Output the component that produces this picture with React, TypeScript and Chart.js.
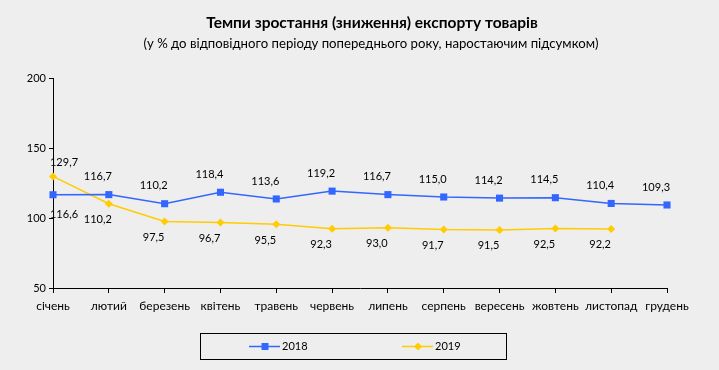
import React, { useEffect, useRef } from 'react';
import { Chart, registerables } from 'chart.js';

Chart.register(...registerables);

const months = ['січень', 'лютий', 'березень', 'квітень', 'травень', 'червень', 'липень', 'серпень', 'вересень', 'жовтень', 'листопад', 'грудень'];
const series2018 = [116.6, 116.7, 110.2, 118.4, 113.6, 119.2, 116.7, 115.0, 114.2, 114.5, 110.4, 109.3];
const series2019: (number | null)[] = [129.7, 110.2, 97.5, 96.7, 95.5, 92.3, 93.0, 91.7, 91.5, 92.5, 92.2, null];
const seriesNames = ['2018', '2019'];
const yMin = 50;
const yMax = 200;
const yStep = 50;
const titleText = 'Темпи зростання (зниження) експорту товарів';
const subtitleText = '(у % до відповідного періоду попереднього року, наростаючим підсумком)';

const FONT = 'Lato, "Liberation Sans", sans-serif';
const BLUE = '#3366ff';
const GOLD = '#ffcc00';

const fmt = (v: number) => v.toFixed(1).replace('.', ',');

function drawSquare(ctx: CanvasRenderingContext2D, x: number, y: number, s: number, color: string) {
  ctx.fillStyle = color;
  ctx.fillRect(x - s / 2, y - s / 2, s, s);
}
function drawDiamond(ctx: CanvasRenderingContext2D, x: number, y: number, r: number, color: string) {
  ctx.fillStyle = color;
  ctx.beginPath();
  ctx.moveTo(x, y - r);
  ctx.lineTo(x + r, y);
  ctx.lineTo(x, y + r);
  ctx.lineTo(x - r, y);
  ctx.closePath();
  ctx.fill();
}

const decorPlugin = {
  id: 'decor',
  beforeDraw(chart: any) {
    const ctx: CanvasRenderingContext2D = chart.ctx;
    ctx.save();
    ctx.fillStyle = '#eeeeee';
    ctx.fillRect(0, 0, chart.width, chart.height);
    ctx.fillStyle = '#000';
    ctx.textAlign = 'center';
    ctx.textBaseline = 'middle';
    ctx.font = `bold 15.5px ${FONT}`;
    ctx.fillText(titleText, 372, 23);
    ctx.font = `13.2px ${FONT}`;
    ctx.fillText(subtitleText, 371, 44);

    // legend box
    ctx.strokeStyle = '#000';
    ctx.lineWidth = 1;
    ctx.strokeRect(200.5, 333.5, 306, 26);
    const ly = 346.5;
    const items = [
      { x: 249, color: BLUE, kind: 'sq' },
      { x: 402, color: GOLD, kind: 'di' },
    ];
    items.forEach((it, i) => {
      ctx.strokeStyle = it.color;
      ctx.lineWidth = 1.5;
      ctx.beginPath();
      ctx.moveTo(it.x, ly);
      ctx.lineTo(it.x + 31, ly);
      ctx.stroke();
      if (it.kind === 'sq') drawSquare(ctx, it.x + 16, ly, 7, it.color);
      else drawDiamond(ctx, it.x + 16, ly, 4, it.color);
      ctx.fillStyle = '#000';
      ctx.textAlign = 'left';
      ctx.font = `11px ${FONT}`;
      ctx.fillText(seriesNames[i], it.x + 33, ly);
    });
    ctx.restore();
  },
  afterDatasetsDraw(chart: any) {
    const ctx: CanvasRenderingContext2D = chart.ctx;
    ctx.save();
    ctx.fillStyle = '#000';
    ctx.font = `11px ${FONT}`;
    ctx.textAlign = 'center';
    ctx.textBaseline = 'middle';
    const m18 = chart.getDatasetMeta(0).data;
    const m19 = chart.getDatasetMeta(1).data;
    for (let i = 0; i < months.length; i++) {
      const v18 = series2018[i];
      const v19 = series2019[i];
      const above18 = v19 == null || v18 >= v19;
      const dx = i === 0 ? 11 : -11;
      const p18 = m18[i];
      if (p18 && v18 != null) {
        const dy = above18 ? -18 : 20;
        ctx.fillText(fmt(v18), p18.x + dx, p18.y + dy);
      }
      const p19 = m19[i];
      if (p19 && v19 != null) {
        const dy = above18 ? 16 : -14;
        ctx.fillText(fmt(v19), p19.x + dx, p19.y + dy);
      }
    }
    ctx.restore();
  },
};

export default function App() {
  const ref = useRef<HTMLCanvasElement | null>(null);
  useEffect(() => {
    document.body.style.margin = '0';
    document.body.style.background = '#eeeeee';
    const canvas = ref.current;
    if (!canvas) return;
    const chart = new Chart(canvas, {
      type: 'line',
      data: {
        labels: months,
        datasets: [
          {
            label: seriesNames[0],
            data: series2018,
            borderColor: BLUE,
            backgroundColor: BLUE,
            borderWidth: 1.5,
            pointStyle: 'rect',
            pointRadius: 5,
            pointBorderWidth: 0,
            tension: 0,
          },
          {
            label: seriesNames[1],
            data: series2019,
            borderColor: GOLD,
            backgroundColor: GOLD,
            borderWidth: 1.5,
            pointStyle: 'rectRot',
            pointRadius: 4,
            pointBorderWidth: 0,
            tension: 0,
          },
        ],
      },
      options: {
        responsive: false,
        animation: false,
        devicePixelRatio: 1,
        layout: { padding: { left: 0, right: 52, top: 78, bottom: 0 } },
        plugins: {
          legend: { display: false },
          title: { display: false },
          tooltip: { enabled: false },
        },
        scales: {
          x: {
            type: 'category',
            offset: false,
            grid: { display: true, drawOnChartArea: false, drawTicks: true, tickLength: 5, color: '#000' },
            border: { display: true, color: '#000', width: 1 },
            ticks: { color: '#000', font: { family: FONT, size: 12 }, padding: 6, maxRotation: 0, autoSkip: false },
            afterFit: (scale: any) => { scale.height = 82; },
          },
          y: {
            min: yMin,
            max: yMax,
            grid: { display: true, drawOnChartArea: false, drawTicks: true, tickLength: 4, color: '#000' },
            border: { display: true, color: '#000', width: 1 },
            ticks: { stepSize: yStep, color: '#000', font: { family: FONT, size: 11 }, padding: 3 },
            afterFit: (scale: any) => { scale.width = 53; },
          },
        },
      },
      plugins: [decorPlugin],
    } as any);
    return () => chart.destroy();
  }, []);
  return (
    <div style={{ position: 'fixed', left: 0, top: 0, width: 719, height: 370, background: '#eeeeee' }}>
      <canvas ref={ref} width={719} height={370} style={{ display: 'block' }} />
    </div>
  );
}
